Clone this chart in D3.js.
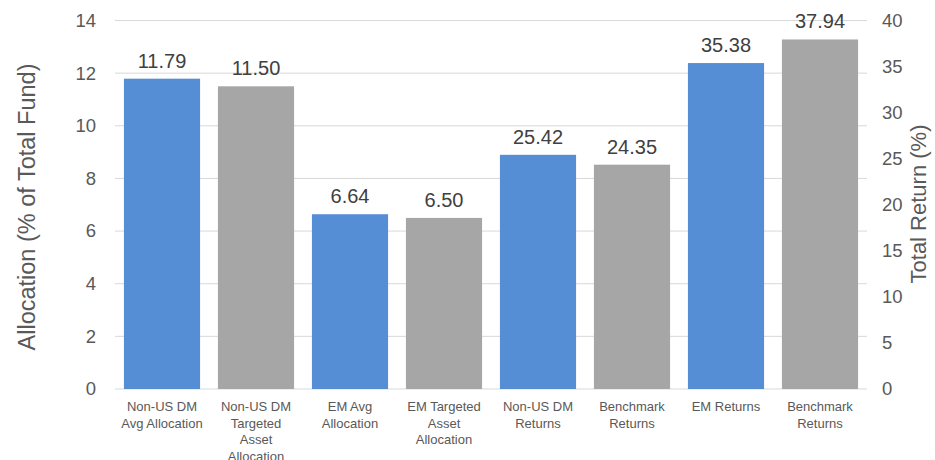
<!DOCTYPE html>
<html>
<head>
<meta charset="utf-8">
<script src="https://cdn.jsdelivr.net/npm/d3@7"></script>
<style>
  html, body { margin: 0; padding: 0; background: #fff; }
  svg { display: block; font-family: "Liberation Sans", Arial, sans-serif; }
</style>
</head>
<body>
<svg id="chart" width="935" height="460"></svg>
<script>
// Categories, one bar each
const categories = [
  "Non-US DM\nAvg Allocation",
  "Non-US DM\nTargeted\nAsset\nAllocation",
  "EM Avg\nAllocation",
  "EM Targeted\nAsset\nAllocation",
  "Non-US DM\nReturns",
  "Benchmark\nReturns",
  "EM Returns",
  "Benchmark\nReturns"
];
// Values in percent
const values = [11.79, 11.50, 6.64, 6.50, 25.42, 24.35, 35.38, 37.94];
// Which axis each bar is measured on: "left" = allocation, "right" = total return
const axisOf = ["left", "left", "left", "left", "right", "right", "right", "right"];
// Fund vs benchmark/target colouring
const kind = ["fund", "target", "fund", "target", "fund", "bench", "fund", "bench"];

const leftTicks = [0, 2, 4, 6, 8, 10, 12, 14];
const rightTicks = [0, 5, 10, 15, 20, 25, 30, 35, 40];

const colors = { fund: "#558ED5", target: "#A6A6A6", bench: "#A6A6A6" };

const svg = d3.select("#chart");
const plot = { left: 115, right: 867, top: 20.5, bottom: 389 };

const x = d3.scaleBand()
  .domain(d3.range(categories.length))
  .range([plot.left, plot.right])
  .paddingInner(0.19)
  .paddingOuter(0.095);

const yLeft = d3.scaleLinear().domain([0, 14]).range([plot.bottom, plot.top]);
const yRight = d3.scaleLinear().domain([0, 40]).range([plot.bottom, plot.top]);
const yFor = i => axisOf[i] === "left" ? yLeft : yRight;

// Gridlines
svg.append("g")
  .selectAll("line")
  .data(leftTicks)
  .join("line")
  .attr("x1", plot.left).attr("x2", plot.right)
  .attr("y1", d => yLeft(d)).attr("y2", d => yLeft(d))
  .attr("stroke", "#D9D9D9").attr("stroke-width", 1);

// Bars
svg.append("g")
  .selectAll("rect")
  .data(values)
  .join("rect")
  .attr("x", (d, i) => x(i))
  .attr("width", x.bandwidth())
  .attr("y", (d, i) => yFor(i)(d))
  .attr("height", (d, i) => plot.bottom - yFor(i)(d))
  .attr("fill", (d, i) => colors[kind[i]]);

// Value labels
svg.append("g")
  .selectAll("text")
  .data(values)
  .join("text")
  .attr("x", (d, i) => x(i) + x.bandwidth() / 2)
  .attr("y", (d, i) => yFor(i)(d) - 11)
  .attr("text-anchor", "middle")
  .attr("font-size", 20)
  .attr("fill", "#404040")
  .text(d => d.toFixed(2));

// Left axis
const leftAxis = svg.append("g")
  .attr("transform", `translate(${plot.left},0)`)
  .call(d3.axisLeft(yLeft).tickValues(leftTicks).tickSize(0).tickPadding(19));
leftAxis.select(".domain").remove();
leftAxis.selectAll("text").attr("font-size", 18.5).attr("fill", "#595959")
  .attr("font-family", "Liberation Sans, Arial, sans-serif");

// Right axis
const rightAxis = svg.append("g")
  .attr("transform", `translate(${plot.right},0)`)
  .call(d3.axisRight(yRight).tickValues(rightTicks).tickSize(0).tickPadding(15));
rightAxis.select(".domain").remove();
rightAxis.selectAll("text").attr("font-size", 18.5).attr("fill", "#595959")
  .attr("font-family", "Liberation Sans, Arial, sans-serif");

// Category labels
const catG = svg.append("g");
categories.forEach((c, i) => {
  const t = catG.append("text")
    .attr("x", x(i) + x.bandwidth() / 2)
    .attr("y", 411)
    .attr("text-anchor", "middle")
    .attr("font-size", 13)
    .attr("fill", "#595959");
  c.split("\n").forEach((line, k) => {
    t.append("tspan")
      .attr("x", x(i) + x.bandwidth() / 2)
      .attr("dy", k === 0 ? 0 : 16.5)
      .text(line);
  });
});

// Axis titles
svg.append("text")
  .attr("transform", "translate(35,207) rotate(-90)")
  .attr("text-anchor", "middle")
  .attr("font-size", 23.5)
  .attr("fill", "#595959")
  .text("Allocation (% of Total Fund)");

svg.append("text")
  .attr("transform", "translate(926,204) rotate(-90)")
  .attr("text-anchor", "middle")
  .attr("font-size", 22)
  .attr("fill", "#595959")
  .text("Total Return (%)");
</script>
</body>
</html>
